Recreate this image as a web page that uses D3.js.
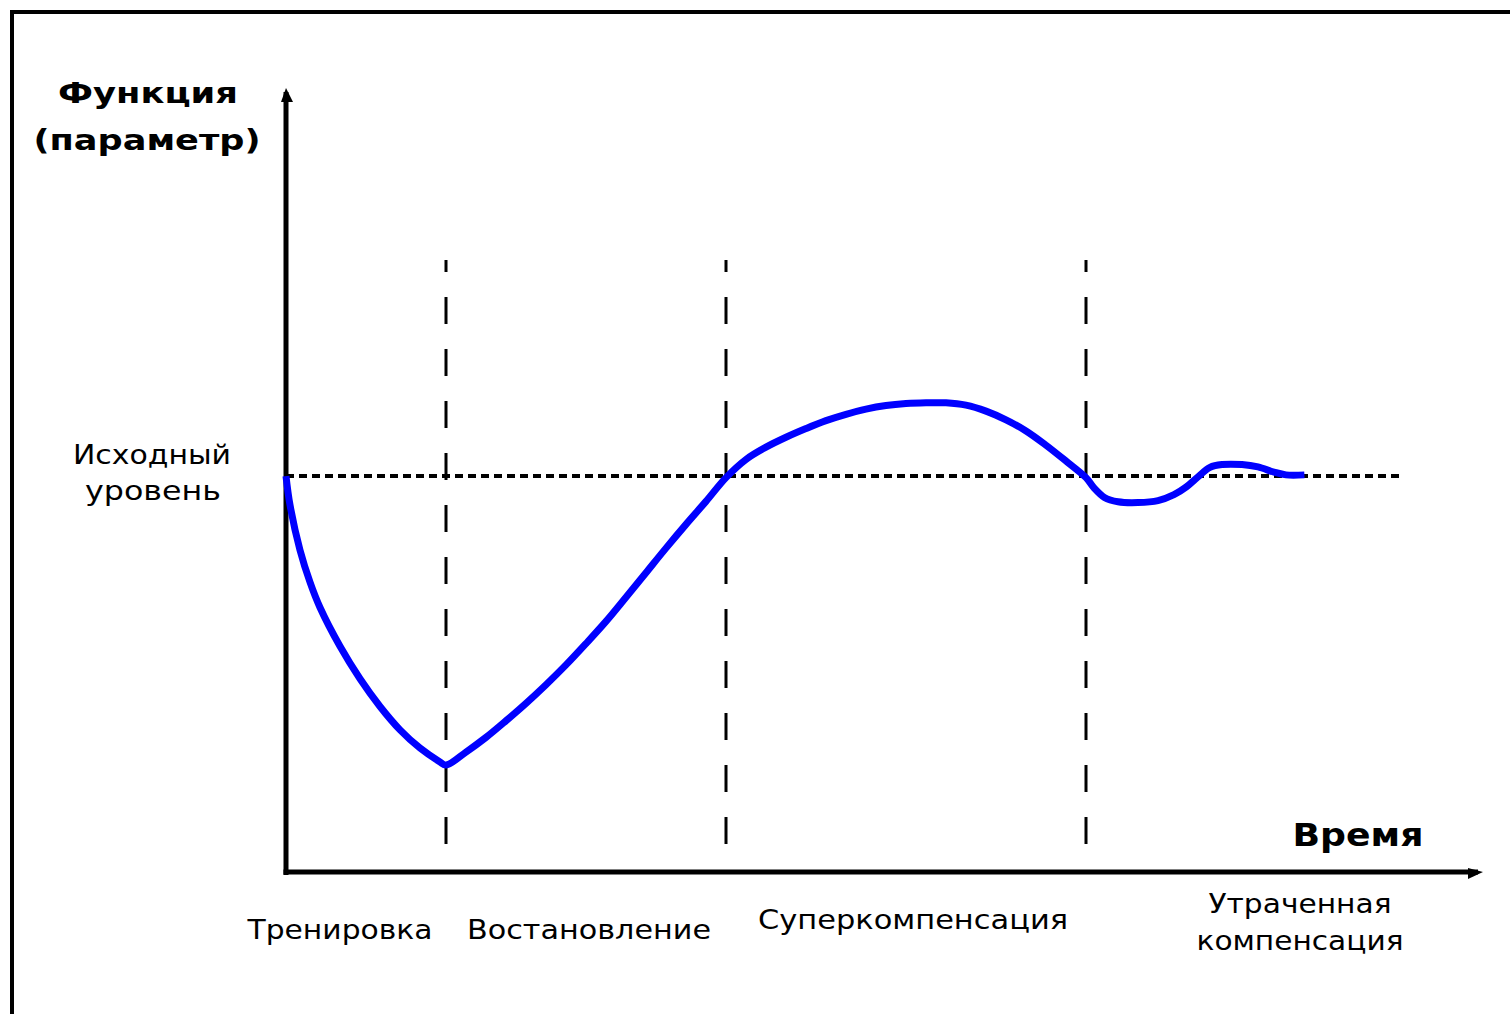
<!DOCTYPE html>
<html>
<head>
<meta charset="utf-8">
<script src="https://cdn.jsdelivr.net/npm/d3@7"></script>
<style>
  html, body { margin: 0; padding: 0; background: #fff; }
  svg { display: block; }
  text { font-family: "DejaVu Sans", "Liberation Sans", sans-serif; fill: #000; }
</style>
</head>
<body>
<svg id="chart" width="1510" height="1014"></svg>
<script>
// ---- data ----
const curveTime  = [0, 0.05, 0.175, 0.3, 0.425, 0.675, 0.925, 1.175, 1.425, 1.675, 1.925, 2.0,
                    2.25, 2.5, 2.75, 3.0, 3.25, 3.5, 3.75, 4.0, 4.25, 4.5, 4.75, 5.0, 5.25, 5.5,
                    5.75, 6.0, 6.25, 6.5, 6.75, 7.0, 7.25, 7.5, 7.75, 8.0, 8.25, 8.5, 8.75, 9.0, 9.25, 9.5, 9.75, 10.0,
                    10.1, 10.23, 10.4, 10.65, 10.9, 11.1, 11.25, 11.4, 11.55, 11.7, 11.95, 12.15, 12.35, 12.5, 12.73];
const curveLevel = [100, 92.7, 81.3, 73.2, 66.8, 57.0, 48.8, 41.8, 35.9, 31.3, 27.8, 27.0,
                    30.3, 34.0, 38.2, 42.6, 47.3, 52.3, 57.7, 63.3, 69.4, 75.6, 81.8, 87.8, 93.6, 99.6,
                    104.2, 107.3, 109.8, 112.0, 114.0, 115.6, 116.9, 117.8, 118.3, 118.5, 118.5, 117.9, 116.4, 114.2, 111.4, 107.8, 103.8, 99.6,
                    97.0, 94.6, 93.5, 93.3, 93.8, 95.3, 97.2, 99.8, 102.2, 102.9, 102.9, 102.3, 101.0, 100.3, 100.3];
const baselineLevel = 100;
const phaseBounds = [2, 5.5, 10];
const phaseLabels = [
  { lines: ["Тренировка"] },
  { lines: ["Востановление"] },
  { lines: ["Суперкомпенсация"] },
  { lines: ["Утраченная", "компенсация"] }
];
const yTitle = ["Функция", "(параметр)"];
const xTitle = "Время";
const baselineLabel = ["Исходный", "уровень"];

// ---- scales ----
const x = d3.scaleLinear().domain([0, 14.9]).range([286, 1478]);
const y = d3.scaleLinear().domain([0, 197]).range([872, 92]);

const svg = d3.select("#chart");
svg.append("rect").attr("width", 1510).attr("height", 1014).attr("fill", "#fff");

// frame lines (top & left)
svg.append("line").attr("x1", 10).attr("x2", 1510).attr("y1", 12).attr("y2", 12)
  .attr("stroke", "#000").attr("stroke-width", 4);
svg.append("line").attr("x1", 12).attr("x2", 12).attr("y1", 10).attr("y2", 1014)
  .attr("stroke", "#000").attr("stroke-width", 4);

// phase dashed lines
svg.selectAll("line.phase").data(phaseBounds).join("line")
  .attr("class", "phase")
  .attr("x1", d => x(d)).attr("x2", d => x(d))
  .attr("y1", 260).attr("y2", 845)
  .attr("stroke", "#000").attr("stroke-width", 3)
  .attr("stroke-dasharray", "27,25").attr("stroke-dashoffset", 15);

// baseline dotted line
svg.append("line")
  .attr("x1", x(0)).attr("x2", x(13.93))
  .attr("y1", y(baselineLevel)).attr("y2", y(baselineLevel))
  .attr("stroke", "#000").attr("stroke-width", 4)
  .attr("stroke-dasharray", "8,5");

// axes
svg.append("line").attr("x1", x(0)).attr("x2", x(0)).attr("y1", y(0) + 3).attr("y2", y(197))
  .attr("stroke", "#000").attr("stroke-width", 5);
svg.append("line").attr("x1", x(0) - 2.5).attr("x2", x(14.9)).attr("y1", y(0)).attr("y2", y(0))
  .attr("stroke", "#000").attr("stroke-width", 5);
// arrow heads
svg.append("path")
  .attr("d", `M${x(0)},${y(197) - 4} L${x(0) + 7},${y(197) + 10} L${x(0) - 5},${y(197) + 10} Z`)
  .attr("fill", "#000");
svg.append("path")
  .attr("d", `M${x(14.9) + 5},${y(0)} L${x(14.9) - 10},${y(0) + 7} L${x(14.9) - 10},${y(0) - 4} Z`)
  .attr("fill", "#000");

// curve
const pts = curveTime.map((t, i) => [t, curveLevel[i]]);
const line = d3.line().x(d => x(d[0])).y(d => y(d[1])).curve(d3.curveCatmullRom.alpha(0.5));
svg.append("path").datum(pts)
  .attr("d", line)
  .attr("fill", "none")
  .attr("stroke", "#0000ff")
  .attr("stroke-width", 7)
  .attr("stroke-linejoin", "round")
  .attr("stroke-linecap", "butt");

// y-axis title
const yT = svg.append("text").attr("font-weight", "bold").attr("font-size", 28).attr("text-anchor", "middle");
yT.append("tspan").attr("x", 148).attr("y", 103).attr("textLength", 180).attr("lengthAdjust", "spacingAndGlyphs").text(yTitle[0]);
yT.append("tspan").attr("x", 147).attr("y", 150).attr("textLength", 227).attr("lengthAdjust", "spacingAndGlyphs").text(yTitle[1]);

// x-axis title
svg.append("text").attr("x", 1358).attr("y", 846).attr("text-anchor", "middle")
  .attr("font-weight", "bold").attr("font-size", 32)
  .attr("textLength", 131).attr("lengthAdjust", "spacingAndGlyphs").text(xTitle);

// baseline label
const bl = svg.append("text").attr("font-size", 27).attr("text-anchor", "middle");
bl.append("tspan").attr("x", 152).attr("y", 464).attr("textLength", 158).attr("lengthAdjust", "spacingAndGlyphs").text(baselineLabel[0]);
bl.append("tspan").attr("x", 153).attr("y", 500).attr("textLength", 136).attr("lengthAdjust", "spacingAndGlyphs").text(baselineLabel[1]);

// phase labels
const labelPos = [
  { cx: 340, ys: [939], w: [185] },
  { cx: 589, ys: [939], w: [244] },
  { cx: 913, ys: [929], w: [310] },
  { cx: 1300, ys: [913, 950], w: [183, 207] }
];
phaseLabels.forEach((p, i) => {
  const t = svg.append("text").attr("font-size", 27).attr("text-anchor", "middle");
  p.lines.forEach((ln, j) => {
    t.append("tspan").attr("x", labelPos[i].cx).attr("y", labelPos[i].ys[j])
      .attr("textLength", labelPos[i].w[j]).attr("lengthAdjust", "spacingAndGlyphs").text(ln);
  });
});
</script>
</body>
</html>
